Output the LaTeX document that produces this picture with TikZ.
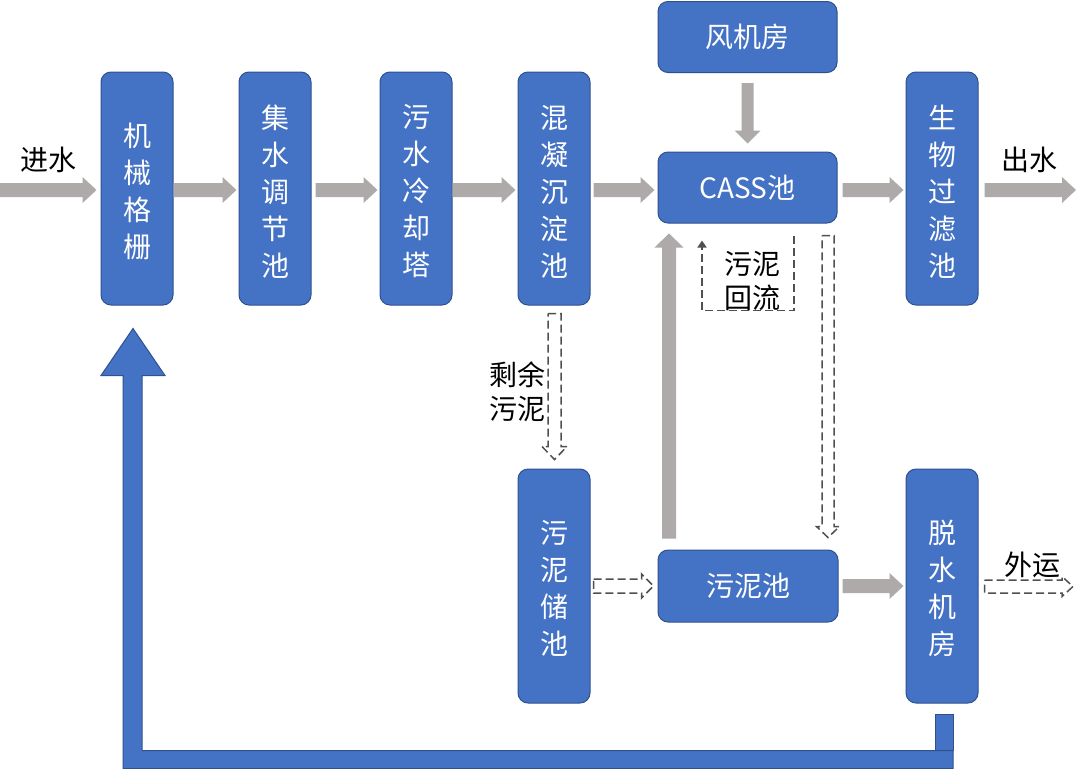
\documentclass[tikz,border=0pt]{standalone}
\usepackage{fontspec}
\setmainfont{Noto Sans CJK SC}
\usetikzlibrary{calc,arrows.meta}
\definecolor{boxblue}{HTML}{4472C4}
\definecolor{boxedge}{HTML}{2F528F}
\definecolor{arrgray}{HTML}{AEAAAA}
\definecolor{dashgray}{HTML}{505050}
% block arrows: #1 style, #2 start, #3 tip, #4 shaft half width, #5 head half width, #6 head length
\newcommand\blkright[6]{\path[#1] let \p1=(#2), \p2=(#3) in
  (\x1,\y1+#4) -- (\x2-#6,\y1+#4) -- (\x2-#6,\y1+#5) -- (\x2,\y1) --
  (\x2-#6,\y1-#5) -- (\x2-#6,\y1-#4) -- (\x1,\y1-#4) -- cycle;}
\newcommand\blkdown[6]{\path[#1] let \p1=(#2), \p2=(#3) in
  (\x1-#4,\y1) -- (\x1+#4,\y1) -- (\x1+#4,\y2+#6) -- (\x1+#5,\y2+#6) --
  (\x1,\y2) -- (\x1-#5,\y2+#6) -- (\x1-#4,\y2+#6) -- cycle;}
\newcommand\blkup[6]{\path[#1] let \p1=(#2), \p2=(#3) in
  (\x1-#4,\y1) -- (\x1+#4,\y1) -- (\x1+#4,\y2-#6) -- (\x1+#5,\y2-#6) --
  (\x1,\y2) -- (\x1-#5,\y2-#6) -- (\x1-#4,\y2-#6) -- cycle;}
\begin{document}
\begin{tikzpicture}[x=1pt,y=-1pt,
  box/.style={draw=boxedge, line width=1pt, fill=boxblue, rounded corners=10pt,
    text=white, align=center, inner sep=0pt,
    font=\fontsize{28}{37}\selectfont},
  vbox/.style={box, minimum width=72pt, minimum height=233pt},
  vtext/.style={text=white, align=center, inner sep=0pt, font=\fontsize{28}{37}\selectfont},
  hbox/.style={box, minimum width=179pt, minimum height=71pt},
  garrow/.style={fill=arrgray},
  harrow/.style={draw=dashgray, line width=1.5pt, dash pattern=on 8pt off 4pt, fill=white},
  lbl/.style={text=black, align=center, inner sep=0pt, font=\fontsize{28}{34}\selectfont}
]
\useasboundingbox (0,0) rectangle (1080,769);
\fill[white] (0,0) rectangle (1080,769);

% boxes
\node[vbox] (jx)  at (137,188.5) {};
\node[vtext] (jxt) at ($(jx.center)+(0,3)$) {机\\械\\格\\栅};
\node[vbox] (jsh) at (275,188.5) {};
\node[vtext] (jsht) at ($(jsh.center)+(0,3)$) {集\\水\\调\\节\\池};
\node[vbox] (wl)  at (416,188.5) {};
\node[vtext] (wlt) at ($(wl.center)+(0,3)$) {污\\水\\冷\\却\\塔};
\node[vbox] (hn)  at (554,188.5) {};
\node[vtext] (hnt) at ($(hn.center)+(0,3)$) {混\\凝\\沉\\淀\\池};
\node[hbox] (fj)  at (747.5,37) {风机房};
\node[hbox] (cass) at (747.5,187.5) {CASS池};
\node[vbox] (sw)  at (942,188.5) {};
\node[vtext] (swt) at ($(sw.center)+(0,3)$) {生\\物\\过\\滤\\池};
\node[vbox, minimum height=234pt] (wc) at (554,586) {};
\node[vtext] (wct) at ($(wc.center)+(0,2)$) {污\\泥\\储\\池};
\node[hbox, minimum width=180pt, minimum height=72pt] (wn) at (748,586) {污泥池};
\node[vbox, minimum height=234pt] (ts) at (942,586) {};
\node[vtext] (tst) at ($(ts.center)+(0,2)$) {脱\\水\\机\\房};

% free ends
\coordinate (inA) at (0,190);
\coordinate (outB) at (1076,190);

% gray block arrows
\blkright{garrow}{inA}{$(jx.west)+(-4,0)$}{7pt}{13pt}{14pt}
\blkright{garrow}{$(jx.east)+(0,1.5)$}{$(jsh.west)+(-2,0)$}{7pt}{13pt}{14pt}
\blkright{garrow}{$(jsh.east)+(4,1.5)$}{$(wl.west)+(-2,0)$}{7pt}{13pt}{14pt}
\blkright{garrow}{$(wl.east)+(0,1.5)$}{$(hn.west)+(-2,0)$}{7pt}{13pt}{14pt}
\blkright{garrow}{$(hn.east)+(3,1.5)$}{$(cass.west)+(-3,0)$}{7pt}{13pt}{14pt}
\blkright{garrow}{$(cass.east)+(5,2.5)$}{$(sw.west)+(-2,0)$}{7pt}{13pt}{14pt}
\blkright{garrow}{$(sw.east)+(6,1.5)$}{outB}{7pt}{13pt}{14pt}
\blkdown{garrow}{$(fj.south)+(0,10)$}{$(cass.north)+(0,-8)$}{6pt}{13pt}{13pt}
\blkup{garrow}{$(wn.north)+(-79,-11)$}{$(cass.south)+(0,10)$}{7pt}{14.5pt}{14pt}
\blkright{garrow}{$(wn.east)+(4,0)$}{$(ts.west)+(-2,0)$}{7pt}{13pt}{14pt}

% dashed hollow arrows
\blkdown{harrow}{$(hn.south)+(0.5,8)$}{$(wc.north)+(0.5,-9)$}{6.5pt}{12.5pt}{13pt}
\blkdown{harrow}{$(cass.south)+(80.5,12)$}{$(wn.north)+(0,-12)$}{6pt}{11.5pt}{11pt}
\blkright{harrow}{$(wc.east)+(3,0)$}{$(wn.west)+(-4,0)$}{7pt}{12pt}{12pt}
\blkright{harrow}{$(ts.east)+(6,0.5)$}{1073,586}{6.5pt}{10pt}{11pt}

% sludge return (elbow)
\coordinate (rA) at ($(cass.south)+(46.5,12)$);
\coordinate (rB) at ($(cass.south)+(46.5,87)$);
\coordinate (rC) at ($(cass.south)+(-45.5,87)$);
\coordinate (rD) at ($(cass.south)+(-45.5,17)$);
\draw[draw=dashgray, line width=1.5pt, dash pattern=on 8pt off 4pt,
  -{Triangle[length=7pt,width=9pt]}] (rA) -- (rB) -- (rC) -- (rD);

% labels
\node[lbl] (tin)  at (48,160) {进水};
\node[lbl] (tout) at (1029,160) {出水};
\node[lbl] (tsy)  at (517,392) {剩余\\污泥};
\node[lbl] (thl)  at (752,281) {污泥\\回流};
\node[lbl] (twy)  at (1032,565) {外运};

% big blue return arrow
\draw[draw=boxedge, line width=1pt, fill=boxblue]
  ($(ts.south)+(11,47)$) -- ($(ts.south)+(11,65)$)
  -- ($(jx.south)+(-14,463)$) -- ($(jx.south)+(-14,70)$)
  -- ($(jx.south)+(-36,70)$) -- ($(jx.south)+(-4,23)$)
  -- ($(jx.south)+(28,70)$) -- ($(jx.south)+(5,70)$)
  -- ($(jx.south)+(5,445)$) -- cycle;
\draw[draw=boxedge, line width=1pt, fill=boxblue]
  ($(ts.south)+(-7,11)$) rectangle ($(ts.south)+(11,47)$);
\end{tikzpicture}
\end{document}
